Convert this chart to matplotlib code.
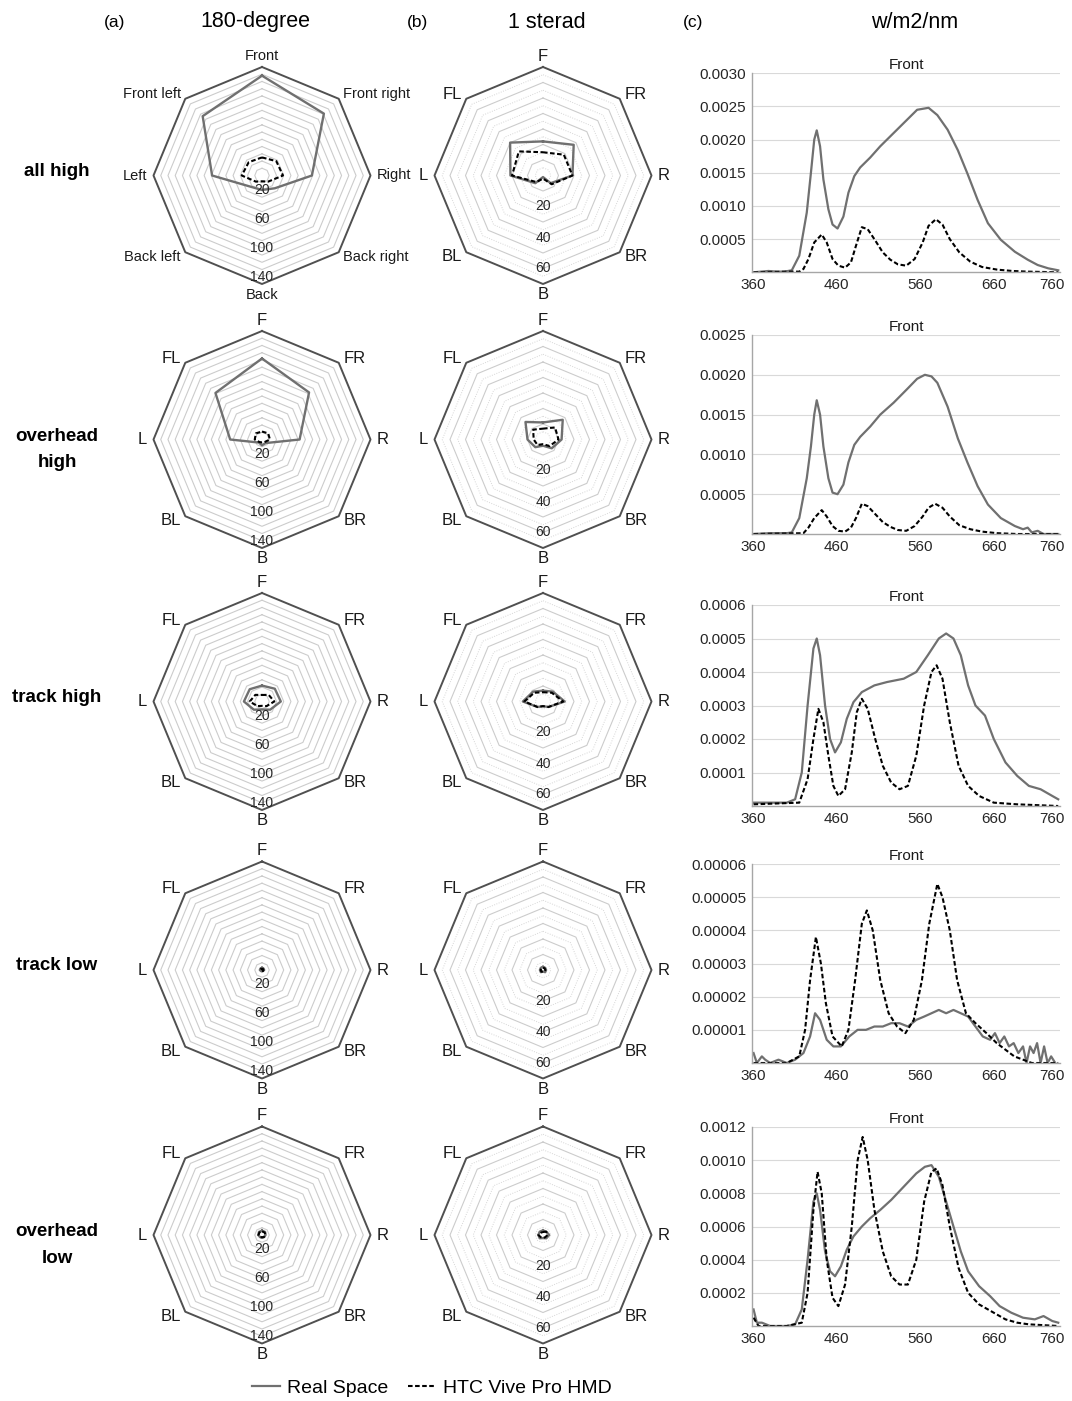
import numpy as np
import matplotlib
matplotlib.use("Agg")
import matplotlib.pyplot as plt
from matplotlib.lines import Line2D
from matplotlib.ticker import FixedLocator, FormatStrFormatter

plt.rcParams['font.family'] = ['Liberation Sans', 'DejaVu Sans']

W, H = 1072, 1401

row_names = ['all high', 'overhead\nhigh', 'track high', 'track low', 'overhead\nlow']
dirs_long = ['Front', 'Front right', 'Right', 'Back right', 'Back', 'Back left', 'Left', 'Front left']
dirs_short = ['F', 'FR', 'R', 'BR', 'B', 'BL', 'L', 'FL']

# radar values, clockwise from front, one list per row
deg180_real = [[138, 121, 69, 25, 20, 22, 69, 116],
               [112, 92, 52, 7, 8, 6, 44, 91],
               [22, 25, 26, 16, 11, 16, 25, 24],
               [3, 3, 3, 2, 2, 2, 3, 3],
               [6, 6, 5, 4, 4, 4, 5, 6]]
deg180_hmd = [[25, 28, 29, 12, 8, 12, 28, 26],
              [11, 12, 11, 5, 4, 5, 10, 12],
              [9, 13, 17, 9, 6, 9, 17, 13],
              [2, 2, 2, 2, 1, 2, 2, 2],
              [5, 5, 5, 4, 3, 4, 5, 5]]
sterad_real = [[22, 28, 19, 7, 1, 7, 21, 30],
               [11, 18, 12, 8, 4, 7, 10, 16],
               [7, 9, 14, 5, 3, 5, 13, 9],
               [2, 2, 2, 2, 1, 2, 2, 2],
               [3, 3, 4, 3, 2, 3, 3, 3]]
sterad_hmd = [[15, 19, 19, 8, 2, 6, 20, 22],
              [7, 11, 10, 6, 3, 5, 6, 9],
              [6, 8, 13, 5, 3, 5, 12, 8],
              [1.5, 1.5, 1.5, 1.5, 1, 1.5, 1.5, 1.5],
              [2, 3, 3, 2, 2, 2, 3, 2]]

# spectra (wavelength nm, W/m2/nm)
ah_real_wl = [360, 369, 378, 388, 397, 406, 415, 424, 429, 433, 436, 440, 444, 450, 455, 461, 468, 474, 481,
              488, 500, 512, 528, 544, 556, 571, 583, 597, 611, 624, 638, 652, 672, 696, 718, 735, 753, 770]
ah_real = [0, 0.00001, 0.00002, 0.00001, 0.00001, 0.00003, 0.00025, 0.0009, 0.0015, 0.0020, 0.00214, 0.0019,
           0.0014, 0.00095, 0.00072, 0.00066, 0.00084, 0.0012, 0.00145, 0.00158, 0.00173, 0.0019, 0.0021,
           0.0023, 0.00245, 0.00248, 0.00237, 0.00215, 0.00184, 0.00149, 0.00109, 0.00074, 0.00049, 0.00031,
           0.00019, 0.00011, 0.00006, 0.00003]
ah_hmd_wl = [360, 400, 415, 420, 426, 433, 442, 448, 455, 462, 470, 477, 483, 490, 497, 506, 515, 524, 533,
             543, 553, 563, 571, 581, 590, 600, 613, 628, 644, 666, 692, 718, 770]
ah_hmd = [0, 0.00001, 0.00001, 0.00005, 0.0002, 0.00045, 0.00057, 0.00045, 0.0002, 0.0001, 0.00007, 0.00015,
          0.0004, 0.00068, 0.00065, 0.00048, 0.0003, 0.00019, 0.00012, 0.0001, 0.0002, 0.00045, 0.0007, 0.0008,
          0.00072, 0.0005, 0.0003, 0.00016, 0.00008, 0.00004, 0.00002, 0.00001, 0]

oh_real_wl = [360, 380, 400, 406, 415, 424, 429, 433, 436, 440, 444, 450, 455, 461, 468, 474, 481, 488, 500,
              512, 528, 544, 556, 566, 575, 583, 597, 611, 624, 638, 652, 672, 696, 710, 718, 725, 735, 745, 770]
oh_real = [0, 0.00001, 0.00001, 0.00002, 0.0002, 0.0007, 0.0011, 0.0015, 0.00168, 0.0015, 0.0011, 0.0007,
           0.00052, 0.0005, 0.00062, 0.0009, 0.00112, 0.00122, 0.00135, 0.0015, 0.00165, 0.00182, 0.00195,
           0.002, 0.00198, 0.0019, 0.0016, 0.0012, 0.0009, 0.0006, 0.00037, 0.0002, 0.0001, 0.00006, 0.00008,
           0.00002, 0.00004, 0, 0]
oh_hmd_wl = [360, 420, 426, 433, 442, 448, 455, 462, 470, 477, 483, 490, 497, 506, 515, 524, 533, 543, 553,
             563, 571, 580, 590, 600, 613, 628, 644, 666, 700, 770]
oh_hmd = [0, 0.00001, 0.00008, 0.0002, 0.0003, 0.00022, 0.0001, 0.00004, 0.00003, 0.00008, 0.0002, 0.00038,
          0.00035, 0.00025, 0.00015, 0.00009, 0.00005, 0.00004, 0.0001, 0.00022, 0.00033, 0.00038, 0.00033,
          0.00022, 0.00011, 0.00006, 0.00003, 0.00001, 0, 0]

th_real_wl = [360, 400, 410, 418, 425, 432, 436, 440, 446, 452, 458, 465, 472, 480, 490, 505, 520, 540, 555,
              570, 585, 595, 605, 615, 625, 635, 648, 660, 680, 700, 720, 740, 760, 770]
th_real = [0.00001, 0.00001, 0.00002, 0.0001, 0.0003, 0.00047, 0.0005, 0.00045, 0.0003, 0.0002, 0.00016,
           0.00019, 0.00026, 0.00031, 0.00034, 0.00036, 0.00037, 0.00038, 0.0004, 0.00045, 0.0005, 0.000515,
           0.0005, 0.00045, 0.00036, 0.0003, 0.00027, 0.0002, 0.00013, 0.00009, 0.00006, 0.00005, 0.00003,
           0.00002]
th_hmd_wl = [360, 415, 425, 432, 438, 444, 450, 456, 462, 470, 478, 484, 490, 497, 506, 515, 525, 535, 545,
             555, 565, 575, 582, 590, 600, 612, 625, 640, 660, 700, 770]
th_hmd = [0.000005, 0.00001, 0.00008, 0.0002, 0.00029, 0.00025, 0.00015, 0.00006, 0.00003, 0.00005, 0.00016,
          0.00028, 0.00032, 0.00029, 0.0002, 0.00012, 0.00007, 0.00005, 0.00006, 0.00015, 0.0003, 0.0004,
          0.00042, 0.00038, 0.00025, 0.00012, 0.00006, 0.00003, 0.00001, 0.000005, 0]

tl_real_wl = [360, 364, 370, 374, 380, 390, 400, 410, 420, 428, 434, 440, 448, 456, 465, 475, 485, 495, 505,
              515, 525, 535, 545, 555, 565, 575, 585, 595, 605, 615, 625, 635, 645, 655, 662, 670, 678, 686,
              694, 702, 710, 716, 722, 728, 734, 740, 746, 752, 758, 765]
tl_real = [0.000003, 0, 0.000002, 0.000001, 0, 0.000001, 0, 0.000001, 0.000003, 0.000008, 0.000015, 0.000013,
           0.000007, 0.000005, 0.000005, 0.000008, 0.00001, 0.00001, 0.000011, 0.000011, 0.000012, 0.000012,
           0.000011, 0.000013, 0.000014, 0.000015, 0.000016, 0.000015, 0.000016, 0.000015, 0.000014,
           0.000011, 0.000008, 0.000007, 0.000009, 0.000006, 0.000008, 0.000005, 0.000006, 0.000003,
           0.000005, 0, 0.000005, 0.000003, 0.000006, 0, 0.000005, 0, 0.000002, 0]
tl_hmd_wl = [360, 400, 415, 422, 428, 435, 441, 447, 455, 466, 474, 482, 490, 496, 503, 512, 522, 532, 542,
             552, 562, 572, 583, 590, 600, 610, 622, 635, 650, 665, 680, 695, 710, 725, 770]
tl_hmd = [0, 0, 0.000002, 0.00001, 0.000025, 0.000038, 0.00003, 0.000018, 0.000008, 0.000005, 0.00001,
          0.000025, 0.000042, 0.000046, 0.00004, 0.000025, 0.000015, 0.000011, 0.000009, 0.000013, 0.000025,
          0.000042, 0.000054, 0.00005, 0.00004, 0.000025, 0.000015, 0.000012, 0.000009, 0.000006, 0.000004,
          0.000002, 0.000001, 0, 0]

ol_real_wl = [360, 364, 370, 380, 400, 410, 418, 425, 432, 436, 440, 446, 452, 458, 465, 472, 480, 490, 500,
              512, 525, 540, 555, 566, 575, 585, 595, 605, 615, 625, 640, 655, 670, 690, 710, 730, 745, 760, 770]
ol_real = [0.0001, 0.00002, 0.00002, 0, 0, 0.00001, 0.0001, 0.0004, 0.00075, 0.0008, 0.0007, 0.00045, 0.00033,
           0.0003, 0.00036, 0.00046, 0.00054, 0.0006, 0.00065, 0.0007, 0.00076, 0.00084, 0.00092, 0.00096,
           0.00097, 0.0009, 0.00075, 0.0006, 0.00045, 0.00033, 0.00024, 0.00018, 0.00012, 0.00008, 0.00005,
           0.00004, 0.00006, 0.00003, 0.00002]
ol_hmd_wl = [360, 366, 400, 418, 425, 432, 437, 442, 448, 455, 462, 470, 478, 485, 491, 497, 505, 515, 525,
             535, 545, 555, 565, 575, 582, 590, 600, 612, 625, 640, 660, 680, 700, 720, 770]
ol_hmd = [0.00005, 0, 0, 0.00002, 0.0002, 0.0007, 0.00093, 0.0008, 0.0004, 0.00017, 0.00012, 0.00025, 0.0006,
          0.001, 0.00114, 0.001, 0.0007, 0.00045, 0.0003, 0.00025, 0.00025, 0.0004, 0.00075, 0.00093, 0.00095,
          0.00085, 0.0006, 0.00035, 0.0002, 0.00013, 0.00008, 0.00004, 0.00002, 0.00001, 0]

spectra = [(ah_real_wl, ah_real, ah_hmd_wl, ah_hmd),
           (oh_real_wl, oh_real, oh_hmd_wl, oh_hmd),
           (th_real_wl, th_real, th_hmd_wl, th_hmd),
           (tl_real_wl, tl_real, tl_hmd_wl, tl_hmd),
           (ol_real_wl, ol_real, ol_hmd_wl, ol_hmd)]
yticks = [[0.0005, 0.0010, 0.0015, 0.0020, 0.0025, 0.0030],
          [0.0005, 0.0010, 0.0015, 0.0020, 0.0025],
          [0.0001, 0.0002, 0.0003, 0.0004, 0.0005, 0.0006],
          [0.00001, 0.00002, 0.00003, 0.00004, 0.00005, 0.00006],
          [0.0002, 0.0004, 0.0006, 0.0008, 0.0010, 0.0012]]
ydec = [4, 4, 4, 5, 4]
xticks = [360, 460, 560, 660, 760]

# the spectrometer axis is a category axis, so tick spacing is uneven
scale_nm = [300, 358, 360, 460, 560, 660, 760, 773, 900]
scale_pos = [-0.157, 0, 0.005, 0.275, 0.547, 0.785, 0.975, 1.0, 1.24]

REAL_C = '#707070'
DASH = (0, (2.2, 1.2))

fig = plt.figure(figsize=(W / 100, H / 100), dpi=100)


def rect(left, top, w, h):
    return [left / W, 1 - (top + h) / H, w / W, h / H]


theta = np.deg2rad(np.arange(0, 360, 45))
th_c = np.append(theta, theta[0])


def radar(ax, real, hmd, rmax, major, minor, rlabels, cats, fs):
    ax.set_theta_zero_location('N')
    ax.set_theta_direction(-1)
    ax.set_ylim(0, rmax)
    ax.grid(False)
    ax.set_xticks([])
    ax.set_yticks([])
    ax.spines['polar'].set_visible(False)
    ax.patch.set_alpha(0)
    for r in minor:
        ax.plot(th_c, [r] * 9, color='#d6d6d6', lw=0.7, ls=(0, (1, 1.5)))
    for r in major:
        ax.plot(th_c, [r] * 9, color='#cccccc', lw=0.8)
    ax.plot(th_c, [rmax] * 9, color='#505050', lw=1.4, clip_on=False)
    for v in rlabels:
        ax.text(np.pi, v, str(v), ha='center', va='center', fontsize=10, color='#262626')
    ax.plot(th_c, real + real[:1], color=REAL_C, lw=1.7)
    ax.plot(th_c, hmd + hmd[:1], color='black', lw=1.5, ls=DASH)
    for t, lab in zip(theta, cats):
        s, c = np.sin(t), np.cos(t)
        ha = 'left' if s > 0.1 else ('right' if s < -0.1 else 'center')
        if abs(s) < 0.1:
            rr = rmax * 1.10
        elif abs(c) < 0.1:
            rr = rmax * 1.06
        else:
            rr = rmax * 1.06
        ax.text(t, rr, lab, ha=ha, va='center', fontsize=fs, color='#1a1a1a', clip_on=False)


col_x = [262, 543]
row_y = [175.5, 439.5, 701.5, 970, 1235]
R = 108.5
chart_box = [(73.3, 272.3), (335, 534), (605, 806), (864, 1063), (1127, 1326)]

for i in range(5):
    cy = row_y[i]
    ax = fig.add_axes(rect(col_x[0] - R, cy - R, 2 * R, 2 * R), projection='polar')
    radar(ax, deg180_real[i], deg180_hmd[i], 150, range(10, 150, 10), [],
          [20, 60, 100, 140], dirs_long if i == 0 else dirs_short, 10.5 if i == 0 else 12)
    ax = fig.add_axes(rect(col_x[1] - R, cy - R, 2 * R, 2 * R), projection='polar')
    radar(ax, sterad_real[i], sterad_hmd[i], 70, range(10, 70, 10), range(5, 70, 10),
          [20, 40, 60], dirs_short, 12)

    fig.text(57 / W, 1 - (cy + (10 if '\n' in row_names[i] else -4)) / H, row_names[i],
             ha='center', va='center', fontsize=13.5, fontweight='bold', linespacing=1.75)

    top, bot = chart_box[i]
    ax = fig.add_axes(rect(752, top, 308, bot - top))
    ax.set_xscale('function', functions=(lambda x: np.interp(x, scale_nm, scale_pos),
                                         lambda p: np.interp(p, scale_pos, scale_nm)))
    rw, rv, hw, hv = spectra[i]
    ax.plot(rw, rv, color=REAL_C, lw=1.6)
    ax.plot(hw, hv, color='black', lw=1.5, ls=DASH)
    ax.set_xlim(358, 773)
    ax.set_ylim(0, yticks[i][-1])
    ax.yaxis.set_major_locator(FixedLocator(yticks[i]))
    ax.yaxis.set_major_formatter(FormatStrFormatter('%.' + str(ydec[i]) + 'f'))
    ax.xaxis.set_major_locator(FixedLocator(xticks))
    ax.xaxis.set_major_formatter(FormatStrFormatter('%d'))
    ax.xaxis.set_minor_locator(FixedLocator([]))
    ax.grid(axis='y', color='#d9d9d9', lw=0.8)
    ax.set_axisbelow(True)
    for sp in ['top', 'right']:
        ax.spines[sp].set_visible(False)
    for sp in ['left', 'bottom']:
        ax.spines[sp].set_color('#a6a6a6')
        ax.spines[sp].set_linewidth(1.0)
    ax.tick_params(length=0, labelsize=11, colors='#262626', pad=4)
    ax.set_title('Front', fontsize=11, pad=3, color='#1a1a1a')

fig.text(115 / W, 1 - 22 / H, '(a)', ha='center', va='center', fontsize=12.5)
fig.text(255 / W, 1 - 22 / H, '180-degree', ha='center', va='center', fontsize=15.5)
fig.text(418 / W, 1 - 22 / H, '(b)', ha='center', va='center', fontsize=12.5)
fig.text(547 / W, 1 - 22 / H, '1 sterad', ha='center', va='center', fontsize=15.5)
fig.text(693 / W, 1 - 22 / H, '(c)', ha='center', va='center', fontsize=12.5)
fig.text(915 / W, 1 - 22 / H, 'w/m2/nm', ha='center', va='center', fontsize=15.5)

handles = [Line2D([], [], color=REAL_C, lw=1.6), Line2D([], [], color='black', lw=1.5, ls=DASH)]
fig.legend(handles, ['Real Space', 'HTC Vive Pro HMD'], loc='center', bbox_to_anchor=(432 / W, 1 - 1388 / H),
           ncol=2, frameon=False, fontsize=14, handlelength=1.4, handletextpad=0.4, columnspacing=1.0)

fig.savefig('out.png', dpi=100)
